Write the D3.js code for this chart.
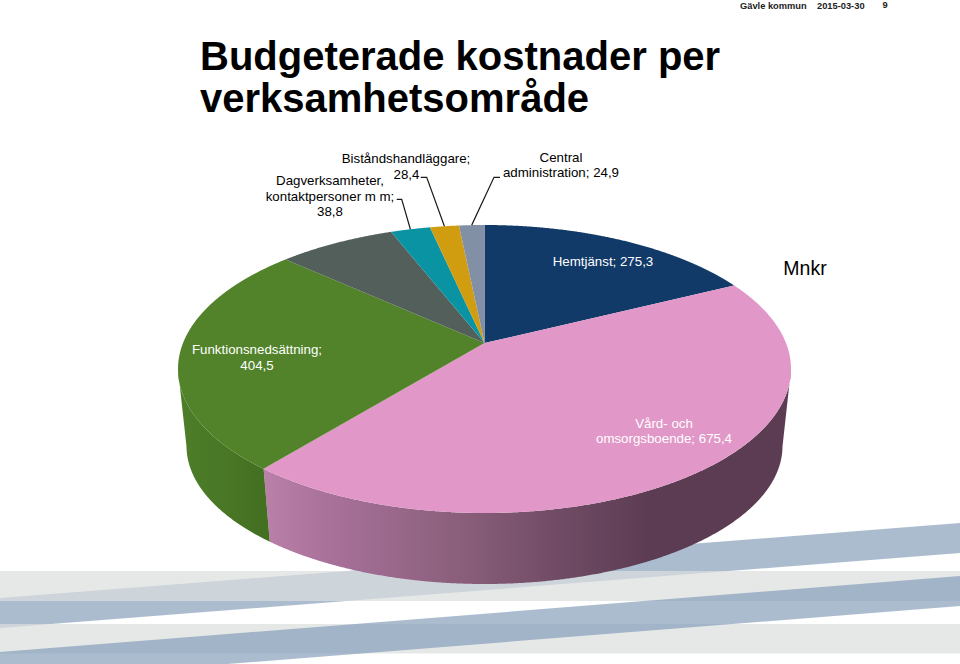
<!DOCTYPE html>
<html><head><meta charset="utf-8">
<script src="https://cdn.jsdelivr.net/npm/d3@7"></script>
<style>html,body{margin:0;padding:0;background:#fff}svg{display:block}text{font-family:"Liberation Sans",Arial,sans-serif}</style>
</head><body><svg id="c" width="960" height="664"></svg>
<script>
const categories=["Hemtjänst","Vård- och omsorgsboende","Funktionsnedsättning","Övrigt","Dagverksamheter, kontaktpersoner m m","Biståndshandläggare","Central administration"];
const values=[275.3,675.4,404.5,115,38.8,28.4,24.9];
const topColors=["#123a68","#e197c7","#52832a","#525f5a","#0a93a3","#d19d10","#8190a5"];
const titleLines=["Budgeterade kostnader per","verksamhetsområde"];
const svg=d3.select("#c");
const defs=svg.append("defs");
const top_={cx:484.5,cy:369,rx:306.5,ry:144};
const bot={cx:484.5,cy:446,rx:298,ry:138};
const p=-0.18, q=Math.sqrt(1-p*p);
// perspective: disc angle -> point on unit ellipse
function unit(a){const x=Math.sin(a),y=-Math.cos(a),d=1+p*y;return [x*q/d,(y+p)/d];}
const on=(e,u)=>[e.cx+e.rx*u[0],e.cy+e.ry*u[1]];
const line=d3.line();
// background bands
const bandColor="#7b96b4";
function band(x0,y0t,y0b,x1,y1t,y1b){svg.append("path").attr("d",line([[x0,y0t],[x1,y1t],[x1,y1b],[x0,y0b]])+"Z").attr("fill",bandColor).attr("fill-opacity",.64);}
band(0,598,628,960,523,553);
svg.append("rect").attr("x",0).attr("y",571).attr("width",960).attr("height",30).attr("fill","#dbdede").attr("fill-opacity",.7);
svg.append("rect").attr("x",0).attr("y",624).attr("width",960).attr("height",29.5).attr("fill","#dbdede").attr("fill-opacity",.7);
band(0,652,682,960,576,606);
// gradients for walls
function grad(id,stops){const g=defs.append("linearGradient").attr("id",id).attr("gradientUnits","userSpaceOnUse").attr("x1",170).attr("x2",800).attr("y1",0).attr("y2",0);
 stops.forEach(s=>g.append("stop").attr("offset",(s[0]-170)/630).attr("stop-color",s[1]));}
grad("w1",[[264,"#ba80a9"],[330,"#a8719a"],[460,"#8a5f7b"],[560,"#704b65"],[650,"#5c3c53"],[800,"#5c3c53"]]);
grad("w2",[[170,"#4f7f2a"],[220,"#497826"],[270,"#436f20"]]);
const wallFill={1:"url(#w1)",2:"url(#w2)"};
const arcs=d3.pie().value(d=>d).sort(null)(values);
arcs.forEach((d,i)=>{
  const as=d3.range(d.startAngle,d.endAngle,0.004).concat([d.endAngle]);
  const us=as.map(unit).filter(u=>u[1]>=0);
  if(us.length<2) return;
  svg.append("path").attr("d",line(us.map(u=>on(top_,u)).concat(us.slice().reverse().map(u=>on(bot,u))))+"Z").attr("fill",wallFill[i]||topColors[i]);
});
arcs.forEach((d,i)=>{
  const as=d3.range(d.startAngle,d.endAngle,0.004).concat([d.endAngle]);
  const pts=[on(top_,[0,p])].concat(as.map(a=>on(top_,unit(a))));
  svg.append("path").attr("d",line(pts)+"Z").attr("fill",topColors[i]);
});
// leaders
const mid=i=>on(top_,unit((arcs[i].startAngle+arcs[i].endAngle)/2));
const leaders=[[4,[[396.7,199.3],[401.7,199.3]]],[5,[[420.7,177.3],[426.7,177.3]]],[6,[[500,177.3],[494,177.3]]]];
leaders.forEach(([i,el])=>svg.append("path").attr("d",line(el.concat([mid(i)]))).attr("fill","none").attr("stroke","#1a1a1a").attr("stroke-width",1.2));
// labels
function txt(lines,x,y,opt={}){const t=svg.append("text").attr("text-anchor",opt.a||"middle").attr("fill",opt.c||"#000").attr("font-size",opt.s||13.3).attr("font-weight",opt.w||null);
 lines.forEach((l,k)=>t.append("tspan").attr("x",x).attr("y",y+k*(opt.lh||21)).text(l));}
txt(["Biståndshandläggare;"],406,163);
txt(["28,4"],406.5,179);
txt(["Dagverksamheter,","kontaktpersoner m m;","38,8"],330,185,{lh:15.5});
txt(["Central","administration; 24,9"],561,162,{lh:15});
txt([categories[0]+"; 275,3"],603,266,{c:"#fff"});
txt(["Funktionsnedsättning;","404,5"],257,354,{c:"#fff",lh:16});
txt(["Vård- och","omsorgsboende; 675,4"],664,427.5,{c:"#fff",lh:15.5});
txt(["Mnkr"],805,274.5,{s:19.5});
titleLines.forEach((l,k)=>txt([l],200,70+k*42,{a:"start",s:40,w:"bold"}));
txt(["Gävle kommun"],740,8.5,{a:"start",s:9.3,w:"bold",c:"#222"});
txt(["2015-03-30"],817,8.5,{a:"start",s:9.3,w:"bold",c:"#222"});
txt(["9"],885,8,{s:9.3,w:"bold",c:"#222"});
</script></body></html>
